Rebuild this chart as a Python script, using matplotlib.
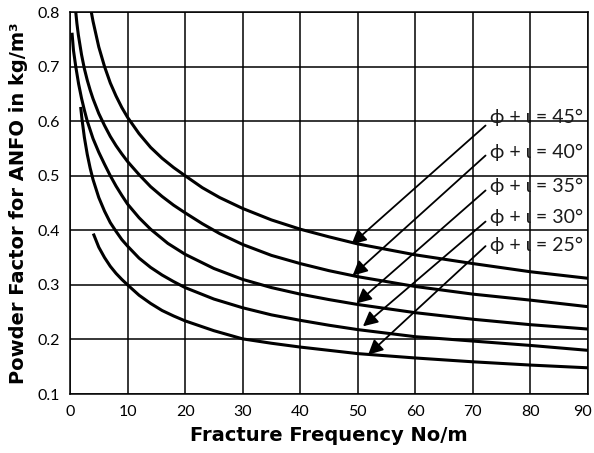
import matplotlib
matplotlib.use("Agg")
import matplotlib.pyplot as plt
from matplotlib.transforms import ScaledTranslation

plt.rcParams['font.family'] = ['Lato', 'DejaVu Sans']

# curves: fracture frequency (No/m) -> powder factor (kg/m3)
x45 = [3.7, 4, 5, 6, 7, 8, 9, 10, 12, 14, 16, 18, 20, 23, 26, 30, 35, 40, 45, 50, 60, 70, 80, 90]
y45 = [0.80, 0.783, 0.736, 0.700, 0.670, 0.646, 0.625, 0.607, 0.577, 0.552, 0.532, 0.515, 0.500,
       0.478, 0.460, 0.440, 0.419, 0.402, 0.388, 0.375, 0.355, 0.339, 0.324, 0.312]

x40 = [1.0, 1.2, 1.45, 2, 2.5, 3, 3.5, 4, 5, 6, 7, 8, 9, 10, 12, 14, 16, 18, 20, 23, 26, 30,
       35, 40, 45, 50, 60, 70, 80, 90]
y40 = [0.80, 0.779, 0.758, 0.722, 0.696, 0.675, 0.657, 0.641, 0.614, 0.592, 0.572, 0.555, 0.540,
       0.526, 0.502, 0.480, 0.462, 0.446, 0.432, 0.412, 0.394, 0.374, 0.354, 0.339, 0.326, 0.315,
       0.297, 0.283, 0.272, 0.260]

x35 = [0.35, 0.6, 1.0, 1.5, 2, 2.5, 3, 4, 5, 6, 7, 8, 9, 10, 12, 14, 17, 20, 25, 30, 35,
       40, 45, 50, 60, 70, 80, 90]
y35 = [0.762, 0.730, 0.700, 0.668, 0.642, 0.620, 0.600, 0.568, 0.543, 0.521, 0.500, 0.481,
       0.464, 0.448, 0.423, 0.402, 0.376, 0.356, 0.330, 0.310, 0.295, 0.283, 0.273, 0.264, 0.249,
       0.237, 0.227, 0.219]

x30 = [1.85, 2.1, 2.5, 3, 3.5, 4, 5, 6, 7, 8, 9, 10, 12, 14, 16, 18, 20, 25, 30, 35, 40, 45,
       50, 60, 70, 80, 90]
y30 = [0.626, 0.602, 0.570, 0.539, 0.514, 0.493, 0.460, 0.435, 0.414, 0.398, 0.383, 0.371, 0.349,
       0.332, 0.318, 0.306, 0.295, 0.274, 0.258, 0.245, 0.235, 0.226, 0.218, 0.205, 0.197, 0.189,
       0.180]

x25 = [4.05, 5, 6, 7, 8, 9, 10, 12, 14, 16, 18, 20, 25, 30, 35, 40, 45, 50, 60, 70, 80, 90]
y25 = [0.394, 0.369, 0.350, 0.334, 0.321, 0.310, 0.300, 0.281, 0.266, 0.253, 0.243, 0.234, 0.216,
       0.201, 0.193, 0.186, 0.180, 0.174, 0.166, 0.159, 0.153, 0.148]

labels = ['ϕ + ι = 45°', 'ϕ + ι = 40°', 'ϕ + ι = 35°', 'ϕ + ι = 30°', 'ϕ + ι = 25°']
label_y = [0.606, 0.542, 0.481, 0.424, 0.372]
tail_y = [0.592, 0.537, 0.473, 0.416, 0.371]
tip_x = [48.9, 49.1, 49.8, 50.9, 51.8]
tip_y = [0.374, 0.317, 0.266, 0.224, 0.172]

fig = plt.figure(figsize=(5.94, 4.53), dpi=100)
ax = fig.add_axes([70 / 594, 59 / 453, 518 / 594, 382 / 453])

for xs, ys in [(x45, y45), (x40, y40), (x35, y35), (x30, y30), (x25, y25)]:
    ax.plot(xs, ys, color='black', lw=2.2, solid_capstyle='butt', solid_joinstyle='round')

for lab, ly, ty, hx, hy in zip(labels, label_y, tail_y, tip_x, tip_y):
    ax.annotate('', xy=(hx, hy), xytext=(72.2, ty),
                arrowprops=dict(arrowstyle='-|>', color='black', lw=1.3,
                                mutation_scale=22, shrinkA=0, shrinkB=0))
    ax.text(72.9, ly, lab, fontsize=14, va='center', ha='left', color='#1a1a1a')

ax.set_xlim(0, 90)
ax.set_ylim(0.1, 0.8)
ax.set_xticks(range(0, 91, 10))
ax.set_yticks([0.1, 0.2, 0.3, 0.4, 0.5, 0.6, 0.7, 0.8])
ax.set_yticklabels(['0.1', '0.2', '0.3', '0.4', '0.5', '0.6', '0.7', '0.8'])
ax.grid(True, color='black', lw=1.1)
ax.set_axisbelow(True)
for s in ax.spines.values():
    s.set_linewidth(1.1)
ax.tick_params(axis='both', length=0, labelsize=11.5)
ax.tick_params(axis='x', pad=8)
ax.tick_params(axis='y', pad=7)

# keep the "90" inside the canvas
last = ax.get_xticklabels()[-1]
last.set_transform(last.get_transform() + ScaledTranslation(-6 / 100, 0, fig.dpi_scale_trans))

ax.set_xlabel('Fracture Frequency No/m', fontsize=14, fontweight='bold',
              family='DejaVu Sans', labelpad=5)
ax.set_ylabel('Powder Factor for ANFO in kg/m³', fontsize=14, fontweight='bold',
              family='DejaVu Sans', labelpad=7)

fig.savefig('out.png', dpi=100)
